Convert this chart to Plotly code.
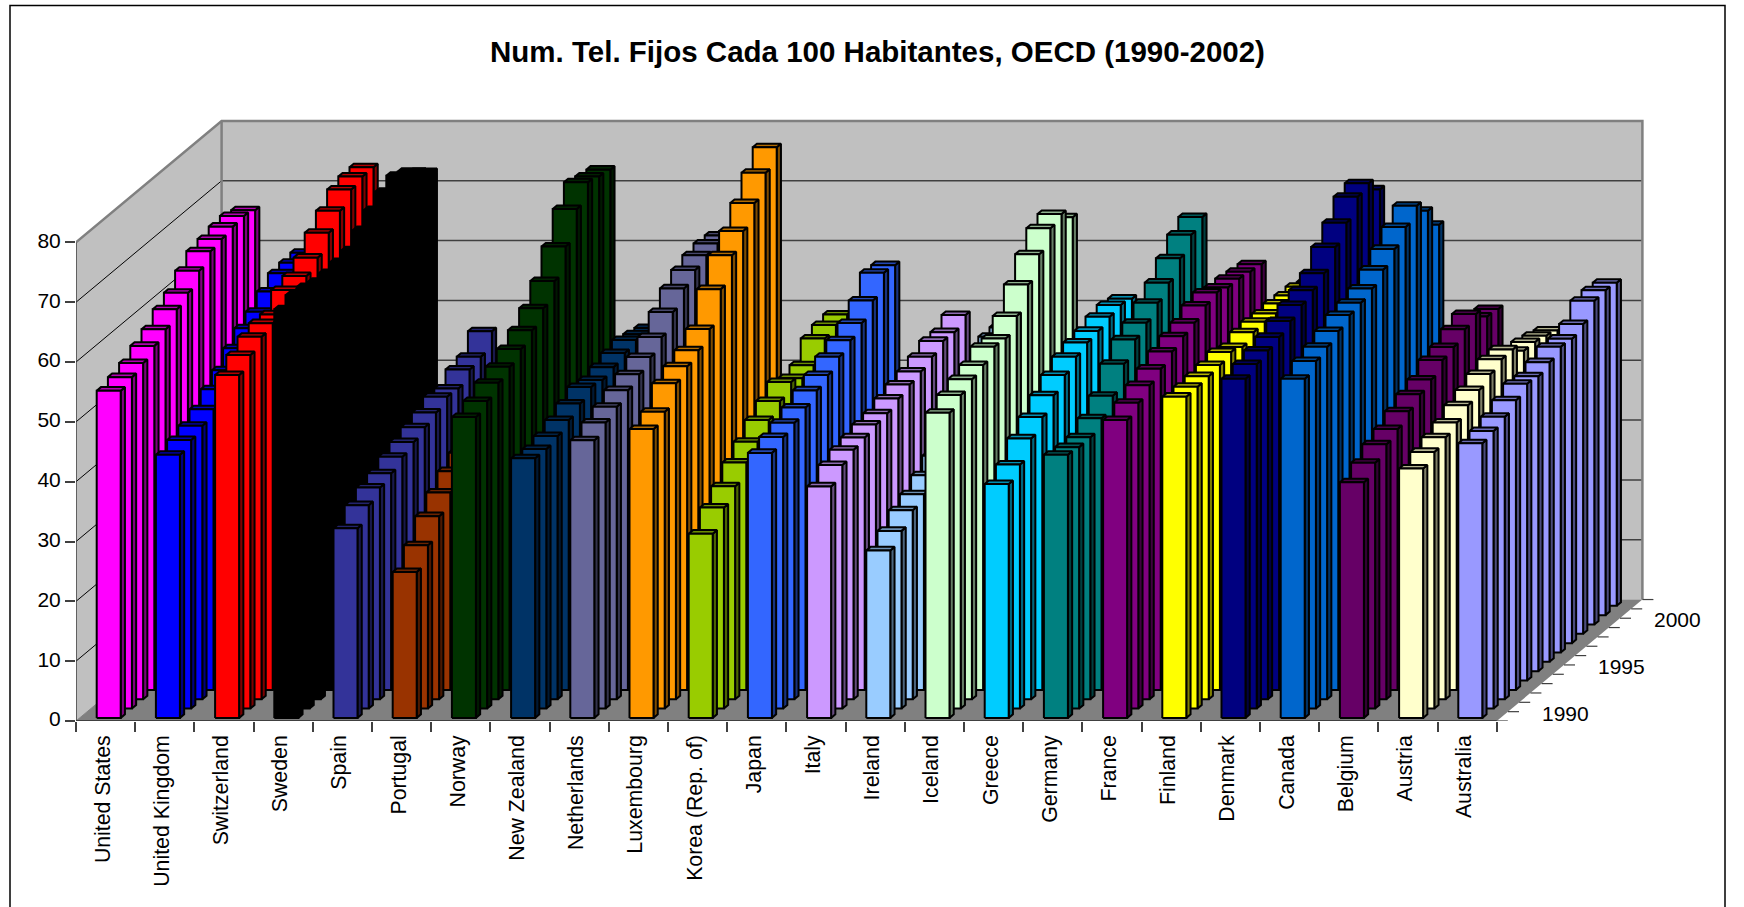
import plotly.graph_objects as go

title = "Num. Tel. Fijos Cada 100 Habitantes, OECD (1990-2002)"
years = list(range(1990, 2003))
countries = ["United States", "United Kingdom", "Switzerland", "Sweden", "Spain", "Portugal",
             "Norway", "New Zealand", "Netherlands", "Luxembourg", "Korea (Rep. of)", "Japan",
             "Italy", "Ireland", "Iceland", "Greece", "Germany", "France", "Finland", "Denmark",
             "Canada", "Belgium", "Austria", "Australia"]
colors = ["#FF00FF", "#0000FF", "#FF0000", "#000000", "#333399", "#993300", "#003300", "#003366",
          "#666699", "#FF9900", "#99CC00", "#3366FF", "#CC99FF", "#99CCFF", "#CCFFCC", "#00CCFF",
          "#008080", "#800080", "#FFFF00", "#000080", "#0066CC", "#660066", "#FFFFCC", "#9999FF"]

united_states = [54.7, 55.4, 56.2, 57.5, 58.7, 60.5, 61.7, 63.8, 65.5, 66.0, 66.5, 66.7, 66.1]
united_kingdom = [44.0, 44.9, 45.7, 46.9, 48.7, 50.3, 52.4, 54.2, 55.4, 57.2, 58.7, 58.9, 59.0]
switzerland = [57.3, 59.1, 60.6, 61.3, 61.2, 63.7, 64.5, 66.0, 68.6, 70.7, 72.7, 73.3, 73.3]
sweden = [68.3, 69.1, 68.9, 68.2, 68.1, 68.4, 68.8, 70.6, 72.4, 73.9, 75.0, 74.1, 72.5]
spain = [31.7, 34.0, 35.4, 36.2, 37.4, 38.3, 39.2, 40.1, 41.2, 41.0, 42.6, 43.2, 45.9]
portugal = [24.4, 27.3, 30.6, 33.0, 35.0, 36.5, 38.0, 39.0, 41.0, 42.0, 43.0, 43.0, 42.0]
norway = [50.3, 51.4, 52.9, 54.0, 55.4, 57.0, 59.1, 62.1, 66.3, 71.0, 73.9, 73.3, 72.9]
new_zealand = [43.4, 43.4, 44.0, 45.1, 46.3, 47.5, 47.1, 47.7, 48.5, 49.1, 48.5, 48.0, 46.0]
netherlands = [46.4, 47.8, 48.9, 50.1, 51.2, 52.5, 54.3, 56.9, 59.3, 60.8, 61.7, 62.1, 61.9]
luxembourg = [48.3, 49.6, 52.8, 54.1, 55.2, 57.2, 62.3, 66.4, 68.9, 72.0, 75.5, 78.2, None]
korea = [30.8, 33.6, 35.6, 38.0, 39.9, 42.0, 43.6, 45.2, 44.3, 44.9, 47.8, 48.5, 48.7]
japan = [44.3, 45.4, 46.2, 47.2, 48.5, 49.5, 51.0, 52.2, 53.5, 55.7, 58.8, 58.5, None]
italy = [38.7, 40.7, 41.7, 42.2, 42.8, 43.1, 44.0, 44.8, 45.4, 46.3, 47.4, 47.3, 48.6]
ireland = [28.0, 29.7, 31.6, 32.7, 34.3, 36.0, 38.0, 40.0, 42.0, 45.0, 48.1, 48.1, 48.0]
iceland = [51.0, 52.4, 53.5, 54.3, 55.8, 55.6, 57.8, 61.5, 65.0, 67.8, 68.6, 66.5, None]
greece = [39.1, 40.8, 43.6, 45.6, 47.7, 49.5, 51.0, 51.8, 52.2, 53.0, 53.4, 52.9, 49.0]
germany = [44.0, 43.7, 43.8, 45.4, 47.6, 51.4, 53.9, 55.1, 56.9, 58.7, 61.2, 63.6, 65.0]
france = [49.8, 51.1, 52.5, 53.7, 55.0, 56.0, 56.7, 58.0, 58.6, 57.9, 57.8, 57.4, 57.1]
finland = [53.7, 53.8, 54.0, 54.3, 54.9, 54.2, 55.1, 55.3, 55.1, 55.2, 55.0, 54.9, 54.1]
denmark = [56.7, 57.6, 58.3, 59.0, 60.1, 61.2, 62.1, 63.4, 66.2, 68.7, 71.5, 72.2, 69.6]
canada = [56.7, 58.1, 58.9, 60.0, 61.1, 61.6, 62.4, 64.0, 65.9, 68.0, 70.0, 67.6, 63.7]
belgium = [39.4, 41.1, 42.6, 43.6, 45.0, 46.3, 47.2, 48.9, 49.5, 50.9, 51.9, 49.9, 49.6]
austria = [41.7, 42.9, 43.8, 44.7, 46.0, 47.0, 48.1, 49.0, 49.1, 47.3, 47.2, 46.7, 46.0]
australia = [45.9, 46.4, 47.2, 48.4, 49.6, 49.3, 50.1, 51.1, 50.9, 51.8, 54.1, 54.3, 54.0]

series = [united_states, united_kingdom, switzerland, sweden, spain, portugal, norway, new_zealand,
          netherlands, luxembourg, korea, japan, italy, ireland, iceland, greece, germany, france,
          finland, denmark, canada, belgium, austria, australia]

value_ticks = list(range(0, 90, 10))
depth_labels = {0.5: "1990", 5.5: "1995", 10.5: "2000"}

# Oblique projection: pixels per category / value unit and per year of depth
PX_CAT, PX_VAL = 59.2, 5.98
DEPTH_X, DEPTH_Y = 11.2, 9.34
LEFT, FLOOR = 76.0, 720.7
W, H = 1744, 907
N_DEPTH = len(years)
BAR_W, BAR_OFF = 24.0, 17.0
F0, F1 = 0.33, 0.71
OUTLINE = 2.0
FONT = "Liberation Sans"


def pt(cat, val, depth):
    return cat + depth * DEPTH_X / PX_CAT, val + depth * DEPTH_Y / PX_VAL


def poly(corners, fill, line="rgba(0,0,0,0)", width=0.0):
    xs, ys = zip(*corners)
    return go.Scatter(x=list(xs) + [xs[0]], y=list(ys) + [ys[0]], mode="lines", fill="toself",
                      fillcolor=fill, line=dict(color=line, width=width), hoverinfo="skip",
                      showlegend=False)


def seg(points, color, width):
    xs, ys = zip(*points)
    return go.Scatter(x=list(xs), y=list(ys), mode="lines", line=dict(color=color, width=width),
                      hoverinfo="skip", showlegend=False)


def shade(hex_color, f):
    r, g, b = (int(hex_color[i:i + 2], 16) for i in (1, 3, 5))
    return f"rgb({int(r * f)},{int(g * f)},{int(b * f)})"


fig = go.Figure()
ncat = len(countries)
D = N_DEPTH

# walls and floor
fig.add_trace(poly([pt(0, 0, 0), pt(0, 80, 0), pt(0, 80, D), pt(0, 0, D)], "#C0C0C0"))
fig.add_trace(poly([pt(0, 0, D), pt(0, 80, D), pt(ncat, 80, D), pt(ncat, 0, D)], "#C0C0C0"))
fig.add_trace(poly([pt(0, 0, 0), pt(ncat, 0, 0), pt(ncat, 0, D), pt(0, 0, D)], "#808080"))
for v in value_ticks[1:-1]:
    fig.add_trace(seg([pt(0, v, 0), pt(0, v, D)], "#000000", 1))
    fig.add_trace(seg([pt(0, v, D), pt(ncat, v, D)], "#404040", 1.5))
fig.add_trace(seg([pt(0, 80, 0), pt(0, 80, D), pt(ncat, 80, D), pt(ncat, 0, D)], "#808080", 2.5))
fig.add_trace(seg([pt(0, 0, D), pt(0, 80, D)], "#808080", 2.5))
fig.add_trace(seg([pt(0, 0, 0), pt(0, 0, D)], "#808080", 1))
fig.add_trace(seg([pt(0, 0, 0), pt(0, 80, 0)], "#404040", 1.5))
fig.add_trace(seg([pt(0, 0, 0), pt(ncat, 0, 0)], "#404040", 2))
# depth-axis ticks
for k in range(D + 1):
    x0, y0 = pt(ncat, 0, k)
    fig.add_trace(seg([(x0, y0), (x0 + 11 / PX_CAT, y0)], "#404040", 1.2))

# bars, back row first
bw = BAR_W / PX_CAT
off = BAR_OFF / PX_CAT
for k in range(D - 1, -1, -1):
    for c in range(ncat):
        v = series[c][k]
        if v is None:
            continue
        col = colors[c]
        a, b = c + off, c + off + bw
        d0, d1 = k + F0, k + F1
        fig.add_trace(poly([pt(b, 0, d0), pt(b, 0, d1), pt(b, v, d1), pt(b, v, d0)],
                           shade(col, 0.5), "#000000", OUTLINE))
        fig.add_trace(poly([pt(a, v, d0), pt(b, v, d0), pt(b, v, d1), pt(a, v, d1)],
                           shade(col, 0.7), "#000000", OUTLINE))
        fig.add_trace(poly([pt(a, 0, d0), pt(b, 0, d0), pt(b, v, d0), pt(a, v, d0)],
                           col, "#000000", OUTLINE))

annotations = []
for d, txt in depth_labels.items():
    x, y = pt(ncat, 0, d)
    annotations.append(dict(x=x, y=y, xref="x", yref="y", text=txt, showarrow=False, xshift=63, yshift=3,
                            font=dict(family=FONT, size=21, color="#000000")))

frame = dict(type="rect", xref="paper", yref="paper", x0=(10 - LEFT) / (W - LEFT), x1=(1725 - LEFT) / (W - LEFT),
             y0=(FLOOR - 930) / FLOOR, y1=(FLOOR - 5.5) / FLOOR, line=dict(color="#000000", width=1.5),
             fillcolor="rgba(0,0,0,0)", layer="below")

fig.update_layout(
    width=W, height=H, showlegend=False, paper_bgcolor="#FFFFFF", plot_bgcolor="rgba(0,0,0,0)",
    margin=dict(l=LEFT, r=0, t=0, b=H - FLOOR, pad=0),
    title=dict(text=f"<b>{title}</b>", x=877.5 / W, xref="container", xanchor="center", y=1 - 52 / H, yanchor="middle",
               font=dict(family=FONT, size=29.5, color="#000000")),
    xaxis=dict(range=[0, (W - LEFT) / PX_CAT], showgrid=False, zeroline=False, showline=False,
               tickmode="array", tickvals=[i + 0.5 for i in range(ncat)], ticktext=countries, tickangle=-90,
               ticks="", ticklabelstandoff=9, ticklabelshift=-3,
               tickfont=dict(family=FONT, size=21.3, color="#000000"),
               minor=dict(tickmode="array", tickvals=list(range(ncat + 1)), ticks="outside", ticklen=10,
                          tickcolor="#404040", tickwidth=1.5, showgrid=False)),
    yaxis=dict(range=[0, FLOOR / PX_VAL], showgrid=False, zeroline=False, showline=False,
               tickmode="array", tickvals=value_ticks, ticktext=[str(v) for v in value_ticks],
               ticks="outside", ticklen=10, tickcolor="#404040", tickwidth=1.5, ticklabelshift=-2,
               tickfont=dict(family=FONT, size=21, color="#000000")),
    annotations=annotations, shapes=[frame],
)

fig.write_html("out.html", config={"displayModeBar": False},
               post_script="document.body.style.margin='0';document.body.style.overflow='hidden';")
